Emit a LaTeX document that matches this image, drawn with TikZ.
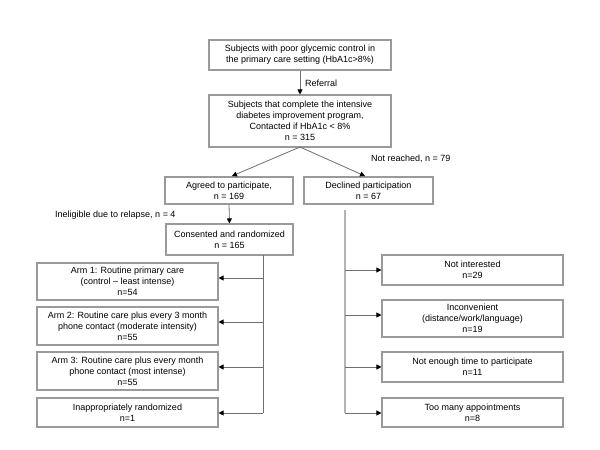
\documentclass[tikz,border=0pt]{standalone}
\usepackage{fontspec}
\setmainfont{Liberation Sans}
\usetikzlibrary{arrows.meta}
\begin{document}
\begin{tikzpicture}[x=1pt,y=-1pt,
  box/.style={draw=boxgray,line width=1.1pt,align=center,inner sep=0pt,
    font=\fontsize{9}{11}\selectfont,text=black},
  lbl/.style={font=\fontsize{9}{11}\selectfont,inner sep=0pt,anchor=west},
  conn/.style={draw=linegray,line width=0.8pt,-{Triangle[length=5pt,width=5pt,fill=black,color=black]}},
  plain/.style={draw=linegray,line width=0.8pt},
  trunk/.style={draw=trunkgray,line width=1.4pt}]
\definecolor{boxgray}{HTML}{9A9A9A}
\definecolor{linegray}{HTML}{707070}
\definecolor{trunkgray}{HTML}{B4B4B4}
\useasboundingbox[fill=white] (0,0) rectangle (600,450);
\newcommand{\bx}[6]{\node[box,minimum width=#4pt,minimum height=#5pt] (#1) at (#2,#3) {#6};}
\bx{b1}{300}{55}{182}{30}{Subjects with poor glycemic control in\\the primary care setting (HbA1c>8\%)}
\bx{b2}{300}{121}{182}{52}{Subjects that complete the intensive\\diabetes improvement program,\\Contacted if HbA1c < 8\%\\n = 315}
\bx{agr}{229}{190.5}{128}{27}{Agreed to participate,\\n = 169}
\bx{dec}{368.5}{190.5}{129}{27}{Declined participation\\n = 67}
\bx{con}{229.5}{239.5}{127}{31}{Consented and randomized\\n = 165}
\bx{a1}{127.5}{281.5}{181}{37}{Arm 1: Routine primary care\\(control -- least intense)\\n=54}
\bx{a2}{127.5}{326}{181}{38}{Arm 2: Routine care plus every 3 month\\phone contact (moderate intensity)\\n=55}
\bx{a3}{127.5}{371}{181}{38}{Arm 3: Routine care plus every month\\phone contact (most intense)\\n=55}
\bx{a4}{127.5}{412.5}{181}{29}{Inappropriately randomized\\n=1}
\bx{r1}{472.5}{270}{181}{30}{Not interested\\n=29}
\bx{r2}{472.5}{318.5}{181}{37}{Inconvenient\\(distance/work/language)\\n=19}
\bx{r3}{472.5}{367}{181}{30}{Not enough time to participate\\n=11}
\bx{r4}{472.5}{412.5}{181}{29}{Too many appointments\\n=8}
% labels
\node[lbl] (ref) at (305,83) {Referral};
\node[lbl] (nr) at (371,159) {Not reached, n = 79};
\node[lbl] (inel) at (55,215) {Ineligible due to relapse, n = 4};
% top connectors
\draw[conn] (b1.south) -- (b2.north);
\coordinate (split) at (300,147);
\coordinate (agrtip) at (232,176);
\coordinate (dectip) at (365,176);
\draw[conn] (split) -- (agrtip);
\draw[conn] (split) -- (dectip);
\draw[conn] (agr.south) -- (con.north);
% left trunk
\coordinate (lt0) at (263,255);
\coordinate (lt1) at (263,278);
\coordinate (lt2) at (263,322);
\coordinate (lt3) at (263,367);
\coordinate (lt4) at (263,413);
\draw[plain] (lt0) -- (lt4);
\draw[conn] (lt1) -- (lt1 -| a1.east);
\draw[conn] (lt2) -- (lt2 -| a2.east);
\draw[conn] (lt3) -- (lt3 -| a3.east);
\draw[conn] (lt4) -- (lt4 -| a4.east);
% right trunk
\coordinate (rt0) at (345,210);
\coordinate (rt1) at (345,270);
\coordinate (rt2) at (345,315);
\coordinate (rt3) at (345,367);
\coordinate (rt4) at (345,413);
\draw[trunk] (rt0) -- (rt4);
\draw[conn] (rt1) -- (rt1 -| r1.west);
\draw[conn] (rt2) -- (rt2 -| r2.west);
\draw[conn] (rt3) -- (rt3 -| r3.west);
\draw[conn] (rt4) -- (rt4 -| r4.west);
\end{tikzpicture}
\end{document}
